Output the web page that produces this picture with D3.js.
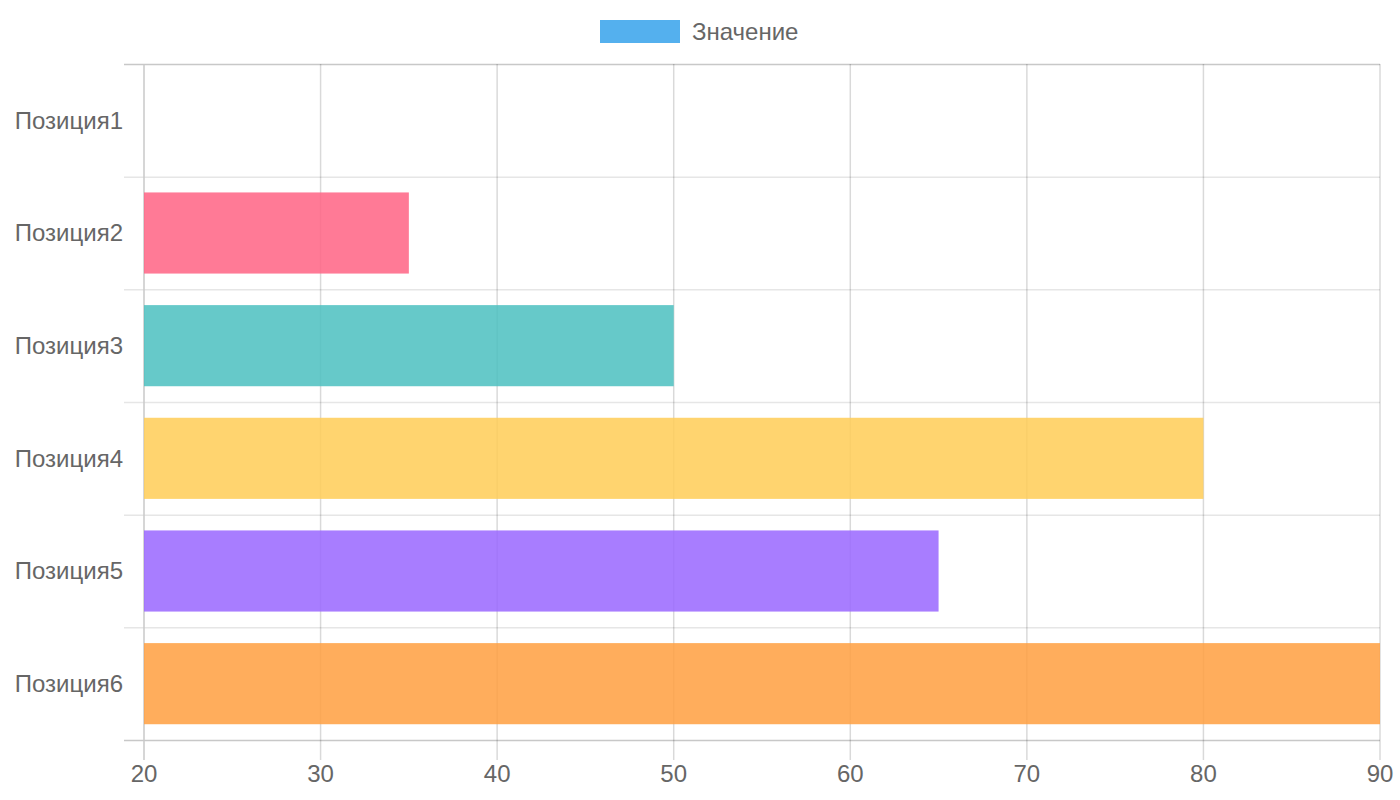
<!DOCTYPE html>
<html>
<head>
<meta charset="utf-8">
<script src="https://cdn.jsdelivr.net/npm/d3@7"></script>
<style>
  body { margin: 0; background: #fff; }
  text { font-family: "Liberation Sans", Arial, sans-serif; fill: #666; }
</style>
</head>
<body>
<div id="chart"></div>
<script>
var categories = ["Позиция1", "Позиция2", "Позиция3", "Позиция4", "Позиция5", "Позиция6"];
var values = [12, 35, 50, 80, 65, 90];
var barColors = ["rgba(54,162,235,0.85)", "rgba(255,99,132,0.85)", "rgba(75,192,192,0.85)",
  "rgba(255,205,86,0.85)", "rgba(153,102,255,0.85)", "rgba(255,159,64,0.85)"];
var xTicks = [20, 30, 40, 50, 60, 70, 80, 90];
var seriesName = "Значение";

var _width = 1400, _height = 800;
var _margins = { top: 64, right: 20, bottom: 60, left: 144 };

var svg = d3.select("#chart").append("svg")
  .attr("width", _width)
  .attr("height", _height);

var x = d3.scaleLinear()
  .domain([20, 90])
  .range([_margins.left, _width - _margins.right]);

var y = d3.scaleBand()
  .domain(categories)
  .range([_margins.top, _height - _margins.bottom]);

// clip to chart area like the original
svg.append("defs").append("clipPath").attr("id", "body-clip")
  .append("rect")
  .attr("x", x.range()[0])
  .attr("y", y.range()[0])
  .attr("width", x.range()[1] - x.range()[0])
  .attr("height", y.range()[1] - y.range()[0]);

// horizontal grid (category boundaries)
var yEdges = categories.map(function(c) { return y(c); }).concat([y.range()[1]]);
svg.append("g").selectAll("line").data(yEdges).enter().append("line")
  .attr("x1", x.range()[0] - 20)
  .attr("x2", x.range()[1])
  .attr("y1", function(d) { return d + 0.5; })
  .attr("y2", function(d) { return d + 0.5; })
  .attr("stroke", function(d, i) { return (i === 0 || i === yEdges.length - 1) ? "#c8c8c8" : "#e6e6e6"; })
  .attr("stroke-width", 1.5);

// vertical grid
svg.append("g").selectAll("line").data(xTicks).enter().append("line")
  .attr("x1", function(d) { return x(d); })
  .attr("x2", function(d) { return x(d); })
  .attr("y1", y.range()[0])
  .attr("y2", y.range()[1] + 20)
  .attr("stroke", function(d, i) { return i === 0 ? "#c8c8c8" : "rgba(0,0,0,0.15)"; })
  .attr("stroke-width", 1.5);

// bars
var bandInner = y.bandwidth() * 0.72;
svg.append("g").attr("clip-path", "url(#body-clip)")
  .selectAll("rect").data(values).enter().append("rect")
  .attr("x", x(20))
  .attr("y", function(d, i) { return y(categories[i]) + (y.bandwidth() - bandInner) / 2; })
  .attr("width", function(d) { return Math.max(0, x(d) - x(20)); })
  .attr("height", bandInner)
  .attr("fill", function(d, i) { return barColors[i]; });

// x tick labels
svg.append("g").selectAll("text").data(xTicks).enter().append("text")
  .attr("x", function(d) { return x(d); })
  .attr("y", y.range()[1] + 42)
  .attr("text-anchor", "middle")
  .attr("font-size", 24)
  .text(function(d) { return d; });

// y tick labels
svg.append("g").selectAll("text").data(categories).enter().append("text")
  .attr("x", x.range()[0] - 21)
  .attr("y", function(d) { return y(d) + y.bandwidth() / 2; })
  .attr("dy", "0.35em")
  .attr("text-anchor", "end")
  .attr("font-size", 24)
  .text(function(d) { return d; });

// legend
var legend = svg.append("g");
legend.append("rect")
  .attr("x", 600).attr("y", 20)
  .attr("width", 80).attr("height", 23)
  .attr("fill", barColors[0]);
legend.append("text")
  .attr("x", 692).attr("y", 32)
  .attr("dy", "0.35em")
  .attr("font-size", 24)
  .text(seriesName);
</script>
</body>
</html>
